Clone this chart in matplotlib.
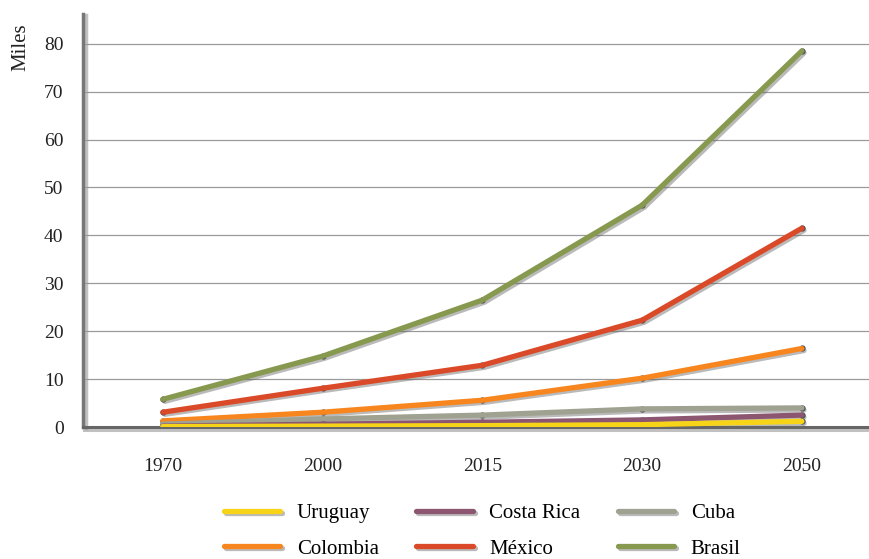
import matplotlib
matplotlib.use("Agg")
import matplotlib.pyplot as plt
import matplotlib.patheffects as pe
from matplotlib.lines import Line2D

years = ["1970", "2000", "2015", "2030", "2050"]

uruguay = [0.1, 0.2, 0.3, 0.5, 1.2]
costa_rica = [0.2, 0.6, 1.0, 1.5, 2.5]
cuba = [0.6, 1.7, 2.5, 3.8, 4.0]
colombia = [1.3, 3.1, 5.6, 10.2, 16.4]
mexico = [3.1, 8.1, 12.9, 22.3, 41.5]
brasil = [5.8, 14.8, 26.5, 46.3, 78.5]

series = [
    ("Uruguay", uruguay, "#F7D417"),
    ("Costa Rica", costa_rica, "#8C5570"),
    ("Cuba", cuba, "#A0A291"),
    ("Colombia", colombia, "#F7861F"),
    ("México", mexico, "#DA4A28"),
    ("Brasil", brasil, "#87994F"),
]

yticks = [0, 10, 20, 30, 40, 50, 60, 70, 80]

plt.rcParams["font.family"] = ["Liberation Serif", "DejaVu Serif"]

fig = plt.figure(figsize=(8.69, 5.59), dpi=100)
ax = fig.add_axes([0.0955, 0.236, 0.9045, 0.739])

shadow = [pe.SimpleLineShadow(offset=(1.5, -1.5), shadow_color="#666666", alpha=0.45),
          pe.Normal()]

x = list(range(len(years)))
# draw the tallest series first so the flat ones stay visible on top
for name, vals, color in reversed(series):
    ax.plot(x, vals, color="#444444", linestyle="none", marker="o",
            markersize=3.5, zorder=2)
    ax.plot(x, vals, color=color, linewidth=3.8, solid_capstyle="round",
            path_effects=shadow, zorder=3)

ax.set_xlim(-0.5, 4.42)
ax.set_ylim(0, 86.2)
ax.set_xticks(x)
ax.set_xticklabels(years)
ax.set_yticks(yticks)
ax.set_yticklabels([str(v) for v in yticks])
ax.tick_params(axis="both", length=0, labelsize=14, colors="#222222")
ax.tick_params(axis="x", pad=22)
ax.tick_params(axis="y", pad=14)

ax.grid(axis="y", color="#9a9a9a", linewidth=0.9, zorder=0)
ax.set_axisbelow(True)

for side in ("top", "right"):
    ax.spines[side].set_visible(False)
ax.spines["left"].set_color("#777777")
ax.spines["left"].set_linewidth(2.5)
ax.spines["left"].set_path_effects(
    [pe.SimpleLineShadow(offset=(2, -1), shadow_color="#999999", alpha=0.6), pe.Normal()])
ax.spines["bottom"].set_color("#666666")
ax.spines["bottom"].set_linewidth(2.2)
ax.spines["bottom"].set_path_effects(
    [pe.SimpleLineShadow(offset=(1, -2), shadow_color="#999999", alpha=0.6), pe.Normal()])

fig.text(0.024, 0.915, "Miles", rotation=90, fontsize=15, color="#222222",
         ha="center", va="center")

# legend: filled column-wise, so order gives rows Uruguay/Costa Rica/Cuba and Colombia/México/Brasil
order = ["Uruguay", "Colombia", "Costa Rica", "México", "Cuba", "Brasil"]
lookup = {n: c for n, _, c in series}
handles = [Line2D([0], [0], color=lookup[n], linewidth=3.8, solid_capstyle="round",
                  path_effects=shadow) for n in order]
fig.legend(handles, order, loc="lower center", bbox_to_anchor=(0.555, -0.033), ncol=3,
           frameon=False, fontsize=15, handlelength=2.7, columnspacing=1.8,
           handletextpad=0.8, labelspacing=0.75)

fig.savefig("out.png", dpi=100)
